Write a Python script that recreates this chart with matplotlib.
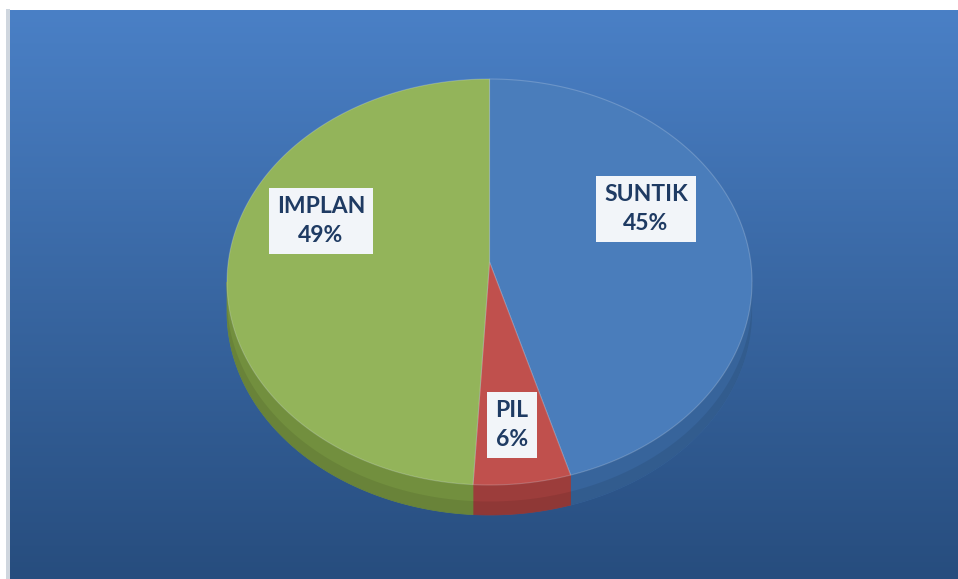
import numpy as np
import matplotlib
matplotlib.use('Agg')
import matplotlib.pyplot as plt
from matplotlib.patches import Polygon, Rectangle

# ── data ──────────────────────────────────────────────
labels = ['SUNTIK', 'PIL', 'IMPLAN']
shares = [45, 6, 49]
top_colors = ['#4a7dbb', '#c0504d', '#93b45a']
side_colors = ['#37649b', '#9c3d3b', '#728f3e']

# ── layout (pixel space) ──────────────────────────────
W, H = 958, 579
cx, cy = 489.5, 282      # ellipse centre
a, b = 262.5, 203        # half axes
apex = (489.5, 262)      # where slices meet (perspective)
depth = 30
label_xy = [(646, 209), (512, 425), (321, 221)]

fig = plt.figure(figsize=(W / 100, H / 100), dpi=100)
ax = fig.add_axes([0, 0, 1, 1])
ax.set_xlim(0, W)
ax.set_ylim(H, 0)
ax.axis('off')
fig.patch.set_facecolor('white')

# background panel with vertical gradient
top_rgb = np.array([0x4a, 0x80, 0xc6]) / 255
bot_rgb = np.array([0x27, 0x4d, 0x7e]) / 255
t = np.linspace(0, 1, 256)[:, None]
grad = (top_rgb[None, :] * (1 - t) + bot_rgb[None, :] * t)[:, None, :]
ax.add_patch(Rectangle((6, 9), 4, H - 9, facecolor='#cfd6de', edgecolor='none'))
ax.imshow(grad, extent=(10, W, H, 10), aspect='auto', zorder=0)


def arc(t0, t1, dy=0.0, n=200):
    th = np.radians(np.linspace(t0, t1, n))
    return np.column_stack([cx + a * np.sin(th), cy - b * np.cos(th) + dy])


bounds = np.concatenate([[0], np.cumsum(shares)]) / sum(shares) * 360

# side walls (only the front half, 90..270 deg)
for i in range(len(shares)):
    s0, s1 = max(bounds[i], 90), min(bounds[i + 1], 270)
    if s1 <= s0:
        continue
    upper = arc(s0, s1)
    lower = arc(s0, s1, depth)[::-1]
    ax.add_patch(Polygon(np.vstack([upper, lower]), closed=True,
                         facecolor=side_colors[i], edgecolor=side_colors[i],
                         lw=0.5, zorder=2))
    # darker shadow band toward the bottom of the wall
    ax.add_patch(Polygon(np.vstack([arc(s0, s1, depth * 0.55), lower]),
                         closed=True, facecolor='black', alpha=0.08,
                         edgecolor='none', zorder=2.1))

# top faces
for i in range(len(shares)):
    pts = np.vstack([[apex], arc(bounds[i], bounds[i + 1])])
    ax.add_patch(Polygon(pts, closed=True, facecolor=top_colors[i],
                         edgecolor=(1, 1, 1, 0.2), lw=0.8, zorder=3))

# data labels
for (x, y), lab, val in zip(label_xy, labels, shares):
    ax.text(x, y, f'{lab}\n{val}%', ha='center', va='center',
            family=['Lato', 'DejaVu Sans'], fontweight='bold', fontsize=16.5,
            color='#1f3b63', linespacing=1.45, zorder=5,
            bbox=dict(boxstyle='square,pad=0.35', facecolor='#f2f5f9',
                      edgecolor='none'))

plt.savefig('out.png', dpi=100)
